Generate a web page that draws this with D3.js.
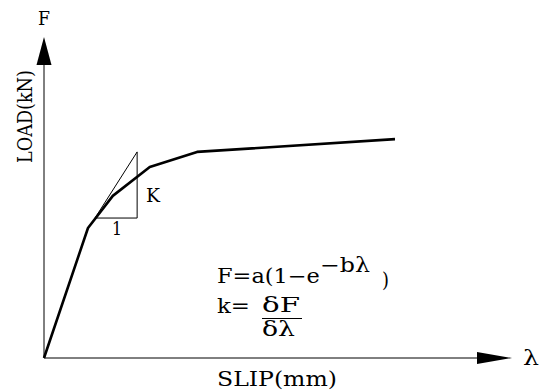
<!DOCTYPE html>
<html lang="en">
<head>
<meta charset="UTF-8">
<title>Load-slip curve</title>
<style>
    body { margin: 0; background: #fff; }
    svg text { font-family: "DejaVu Serif", "Liberation Serif", serif; fill: #000; }
</style>
</head>
<body>
<svg id="chart" width="539" height="392"></svg>
<script src="https://d3js.org/d3.v7.min.js"></script>
<script>
    // load-slip curve (arbitrary units)
    const slip = [0, 0.94, 1.47, 2.26, 3.27, 7.50];
    const load = [0, 4.05, 5.05, 5.95, 6.42, 6.82];
    // tangent triangle for stiffness K
    const triSlip = [1.09, 1.99, 1.99];
    const triLoad = [4.36, 4.36, 6.42];
    const axisMax = { slip: 10, load: 10 };

    const svg = d3.select("#chart");
    const x = d3.scaleLinear().domain([0, axisMax.slip]).range([44, 512]);
    const y = d3.scaleLinear().domain([0, axisMax.load]).range([358, 37]);

    // text stretched horizontally to a target width (the source font is wide)
    function label(str, tx, ty, size, width, rot) {
        const g = svg.append("g")
            .attr("transform", `translate(${tx},${ty})` + (rot ? ` rotate(${rot})` : ""));
        const t = g.append("text").attr("font-size", size).text(str);
        if (width) {
            const w = t.node().getComputedTextLength();
            t.attr("transform", `scale(${width / w},1)`);
        }
        return t;
    }

    // axes
    svg.append("line")
        .attr("x1", x(0)).attr("y1", y(0)).attr("x2", x(axisMax.slip) - 34).attr("y2", y(0))
        .attr("stroke", "#000").attr("stroke-width", 1);
    svg.append("line")
        .attr("x1", x(0)).attr("y1", y(0)).attr("x2", x(0)).attr("y2", y(axisMax.load) + 27)
        .attr("stroke", "#000").attr("stroke-width", 1);

    // arrow heads
    const xt = x(axisMax.slip), yt = y(axisMax.load);
    svg.append("path")
        .attr("d", `M${xt},${y(0)} L${xt - 35},${y(0) - 6} L${xt - 35},${y(0) + 6} Z`)
        .attr("fill", "#000");
    svg.append("path")
        .attr("d", `M${x(0)},${yt} L${x(0) - 7.5},${yt + 28} L${x(0) + 7.5},${yt + 28} Z`)
        .attr("fill", "#000");

    // triangle
    const tri = triSlip.map((s, i) => [x(s), y(triLoad[i])]);
    svg.append("path")
        .attr("d", d3.line()(tri) + "Z")
        .attr("fill", "none").attr("stroke", "#000").attr("stroke-width", 1);

    // curve
    const pts = slip.map((s, i) => [x(s), y(load[i])]);
    svg.append("path")
        .attr("d", d3.line()(pts))
        .attr("fill", "none").attr("stroke", "#000").attr("stroke-width", 2.6)
        .attr("stroke-linejoin", "round");

    // labels
    label("F", 38, 25, 18, 12);
    label("λ", 523, 365, 20, 16);
    label("SLIP(mm)", 217, 386, 21, 120);
    label("LOAD(kN)", 32, 163, 21, 93, -90);
    label("K", 146, 202, 18, 14);
    label("1", 112, 235, 18, 10);

    // formula
    label("F=a(1−e", 217, 283, 20, 103);
    label("−bλ", 320, 272, 20, 50);
    label(")", 382, 287, 20, 7);
    label("k=", 217, 313, 20, 33);
    label("δF", 262, 312, 21, 38);
    svg.append("line").attr("x1", 262).attr("x2", 302).attr("y1", 318.5).attr("y2", 318.5)
        .attr("stroke", "#000").attr("stroke-width", 1);
    label("δλ", 262, 336, 21, 33);
</script>
</body>
</html>
